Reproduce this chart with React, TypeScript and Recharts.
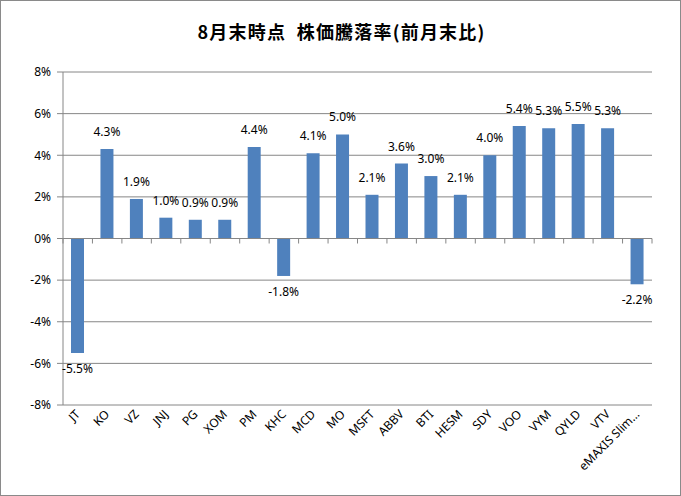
import React from 'react';
import { BarChart, Bar, XAxis, YAxis, CartesianGrid, ReferenceLine, LabelList } from 'recharts';

const tickers = [
  'JT', 'KO', 'VZ', 'JNJ', 'PG', 'XOM', 'PM', 'KHC', 'MCD', 'MO',
  'MSFT', 'ABBV', 'BTI', 'HESM', 'SDY', 'VOO', 'VYM', 'QYLD', 'VTV', 'eMAXIS Slim…',
];
const changes = [
  -5.5, 4.3, 1.9, 1.0, 0.9, 0.9, 4.4, -1.8, 4.1, 5.0,
  2.1, 3.6, 3.0, 2.1, 4.0, 5.4, 5.3, 5.5, 5.3, -2.2,
];
const yTicks = [-8, -6, -4, -2, 0, 2, 4, 6, 8];

const data = tickers.map((name, i) => ({ name, value: changes[i] }));

const W = 681;
const H = 496;
const M = { top: 72, right: 29, bottom: 0, left: 0 };
const Y_AXIS_W = 63;
const X_AXIS_H = 91;
const PLOT_TOP = M.top;
const PLOT_BOTTOM = H - M.bottom - X_AXIS_H;
const BAND = (W - M.right - M.left - Y_AXIS_W) / tickers.length;

const GRID = '#868686';
const BLUE = '#4F81BD';
const FONT = '"Noto Sans", "Noto Sans CJK JP", sans-serif';

// category ticks: rotated label at bottom + Excel-style boundary marks on the 0% line
const CategoryTick = (props: any) => {
  const { x, y, payload, index } = props;
  const zeroY = PLOT_TOP + (PLOT_BOTTOM - PLOT_TOP) / 2;
  return (
    <g>
      <line x1={x - BAND / 2} x2={x - BAND / 2} y1={zeroY} y2={zeroY + 5} stroke={GRID} />
      {index === tickers.length - 1 && (
        <line x1={x + BAND / 2} x2={x + BAND / 2} y1={zeroY} y2={zeroY + 5} stroke={GRID} />
      )}
      <text
        x={x + 3}
        y={y + 10}
        transform={`rotate(-45, ${x + 3}, ${y + 10})`}
        textAnchor="end"
        fontSize={12}
        fontFamily={FONT}
        fill="#000"
      >
        {payload.value}
      </text>
    </g>
  );
};

const ValueLabel = (props: any) => {
  const { x, y, width, height, value } = props;
  const top = Math.min(y, y + height);
  const bottom = Math.max(y, y + height);
  const cx = x + width / 2;
  const ty = value >= 0 ? top - 13 : bottom + 20;
  return (
    <text x={cx} y={ty} textAnchor="middle" fontSize={12} fontFamily={FONT} fill="#000">
      {value.toFixed(1)}%
    </text>
  );
};

export default function App() {
  return (
    <div
      style={{
        position: 'absolute',
        left: 0,
        top: 0,
        width: W,
        height: H,
        boxSizing: 'border-box',
        border: '1px solid #8a8a8a',
        background: '#fff',
      }}
    >
      <div
        style={{
          position: 'absolute',
          top: 17,
          left: 0,
          width: W,
          textAlign: 'center',
          fontFamily: '"Noto Sans CJK JP", sans-serif',
          fontWeight: 'bold',
          fontSize: 18,
          lineHeight: '26px',
          letterSpacing: '1.2px',
          whiteSpace: 'pre',
          color: '#000',
        }}
      >
        8月末時点  株価騰落率(前月末比)
      </div>
      <div style={{ position: 'absolute', left: -1, top: -1 }}>
        <BarChart width={W} height={H} data={data} margin={M} barCategoryGap={0}>
          <CartesianGrid vertical={false} stroke={GRID} />
          <XAxis
            dataKey="name"
            interval={0}
            height={X_AXIS_H}
            axisLine={false}
            tickLine={false}
            tickSize={0}
            tickMargin={0}
            tick={<CategoryTick />}
          />
          <YAxis
            width={Y_AXIS_W}
            domain={[-8, 8]}
            ticks={yTicks}
            interval={0}
            tickFormatter={(v: number) => `${v}%`}
            axisLine={{ stroke: GRID }}
            tickLine={{ stroke: GRID }}
            tickSize={6}
            tickMargin={6}
            tick={{ fontSize: 12, fontFamily: FONT, fill: '#000' }}
          />
          <ReferenceLine y={0} stroke={GRID} />
          <Bar dataKey="value" fill={BLUE} barSize={13} isAnimationActive={false}>
            <LabelList dataKey="value" content={<ValueLabel />} />
          </Bar>
        </BarChart>
      </div>
    </div>
  );
}
